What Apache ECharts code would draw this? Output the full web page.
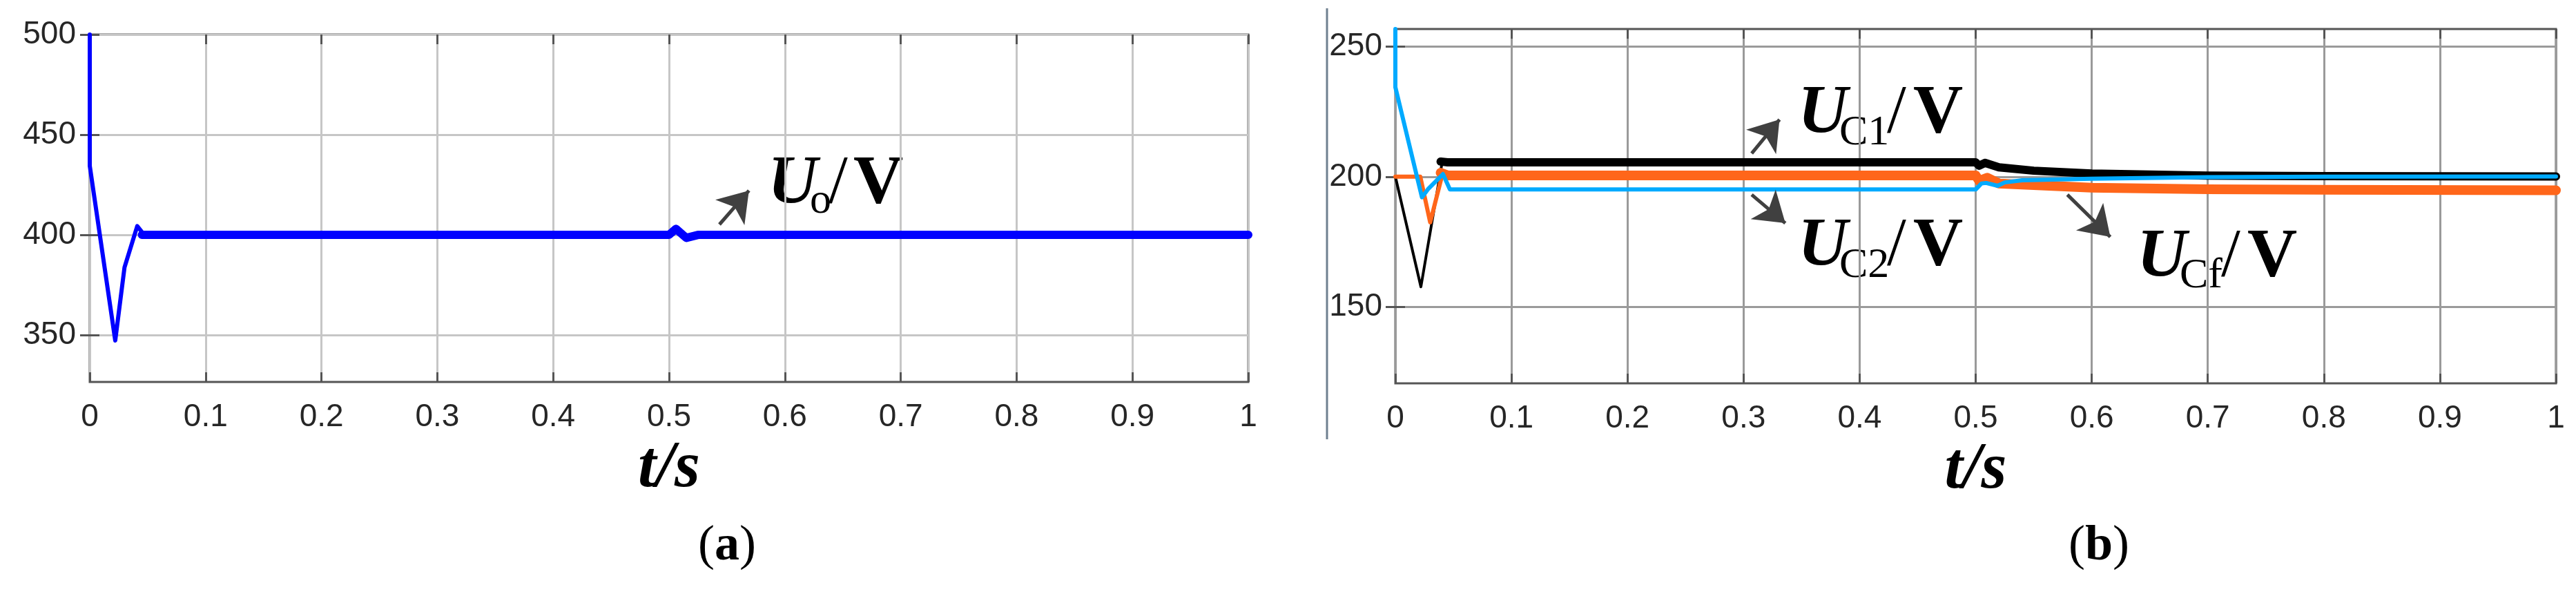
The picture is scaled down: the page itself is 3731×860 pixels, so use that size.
<!DOCTYPE html>
<html>
<head>
<meta charset="utf-8">
<script src="https://cdn.jsdelivr.net/npm/echarts@6/dist/echarts.min.js"></script>
<style>
  html, body { margin: 0; padding: 0; background: #fff; }
  #chart { width: 3731px; height: 860px; }
</style>
</head>
<body>
<div id="chart"></div>
<script>
// (a) output voltage Uo: start-up transient, then the settled trace
const uoRiseT = [0, 0, 0.022, 0.030, 0.041, 0.047];
const uoRiseV = [500, 434.5, 347.3, 383.8, 404.4, 400];
const uoHoldT = [0.045, 0.5, 0.506, 0.515, 0.525, 1];
const uoHoldV = [400, 400, 403, 398.5, 400, 400];

// (b) capacitor voltages
const uc1RiseT = [0, 0.022, 0.0406];
const uc1RiseV = [200, 157.8, 206.3];
const uc1HoldT = [0.039, 0.045, 0.5, 0.503, 0.508, 0.52, 0.55, 0.6, 0.7, 0.8, 1];
const uc1HoldV = [205.8, 205.5, 205.5, 204.2, 205.3, 203.6, 202.3, 201.2, 200.4, 200.2, 200.1];

const ucfRiseT = [0, 0.0215, 0.030, 0.041];
const ucfRiseV = [200, 200, 182.5, 201.8];
const ucfHoldT = [0.039, 0.045, 0.5, 0.503, 0.51, 0.52, 0.6, 0.7, 0.8, 1];
const ucfHoldV = [201.5, 200.5, 200.5, 198.4, 199.6, 197.4, 195.8, 195.2, 195, 194.8];

const uc2T = [0, 0, 0.0229, 0.0281, 0.041, 0.047, 0.5, 0.505, 0.509, 0.519, 0.525, 0.54, 0.6, 0.7, 0.8, 1];
const uc2V = [256.6, 234.3, 192.1, 195.2, 201, 195.1, 195.1, 197.4, 197.6, 196.5, 197.8, 198.6, 199.2, 199.8, 200, 200.1];

// tick labels
const uoTicks = [350, 400, 450, 500];
const ucTicks = [150, 200, 250];

// arrows of the annotations, [t, value] pairs
const uoArrow = [[0.5435, 405.2], [0.569, 422.1]];
const uc1Arrow = [[0.307, 208.9], [0.331, 221.9]];
const uc2Arrow = [[0.307, 193.1], [0.336, 182.2]];
const ucfArrow = [[0.579, 193.1], [0.616, 176.9]];

const pairs = (t, v) => t.map((x, i) => [x, v[i]]);

const SANS = '"Liberation Sans", Arial, sans-serif';
const SERIF = '"Liberation Serif", "Times New Roman", serif';
const TICK_FONT = 46;

function bottomAxis (gridIndex, gridColor, gridWidth) {
  return {
    type: 'value', gridIndex: gridIndex, position: 'bottom',
    min: 0, max: 1, interval: 0.1,
    axisLine: { show: false },
    axisTick: { inside: true, length: 14, lineStyle: { color: '#555', width: 3 } },
    axisLabel: {
      margin: 28, fontSize: TICK_FONT, color: '#262626', fontFamily: SANS,
      formatter: v => String(+v.toFixed(1))
    },
    splitLine: { show: true, lineStyle: { color: gridColor, width: gridWidth } },
    name: 't/s', nameLocation: 'middle', nameGap: 69,
    nameTextStyle: { fontFamily: SERIF, fontStyle: 'italic', fontWeight: 'bold', fontSize: 95, color: '#000' }
  };
}

function topAxis (gridIndex) {
  return {
    type: 'value', gridIndex: gridIndex, position: 'top',
    min: 0, max: 1, interval: 0.1,
    axisLine: { show: false },
    axisTick: { inside: true, length: 14, lineStyle: { color: '#555', width: 3 } },
    axisLabel: { show: false },
    splitLine: { show: false }
  };
}

function leftAxis (gridIndex, min, max, ticks, gridColor, gridWidth, margin) {
  return {
    type: 'value', gridIndex: gridIndex, position: 'left',
    min: min, max: max,
    axisLine: { show: false },
    axisTick: { inside: true, length: 14, customValues: ticks, lineStyle: { color: '#555', width: 3 } },
    axisLabel: { customValues: ticks, margin: margin, fontSize: TICK_FONT, color: '#262626', fontFamily: SANS },
    splitLine: { show: true, lineStyle: { color: gridColor, width: gridWidth } }
  };
}

function rightAxis (gridIndex, min, max, ticks) {
  return {
    type: 'value', gridIndex: gridIndex, position: 'right',
    min: min, max: max,
    axisLine: { show: false },
    axisTick: { inside: true, length: 14, customValues: ticks, lineStyle: { color: '#555', width: 3 } },
    axisLabel: { show: false },
    splitLine: { show: false }
  };
}

function arrowLine (arrow) {
  return [{ coord: arrow[0] }, { coord: arrow[1] }];
}

function arrows (list) {
  return {
    silent: true, animation: false,
    symbol: ['none', 'arrow'], symbolSize: 42,
    lineStyle: { color: '#404040', width: 5, type: 'solid' },
    label: { show: false },
    data: list.map(arrowLine)
  };
}

function line (name, xi, data, color, width, extra) {
  return Object.assign({
    name: name, type: 'line', xAxisIndex: xi, yAxisIndex: xi,
    data: data, showSymbol: false, symbol: 'none', animation: false,
    lineStyle: { color: color, width: width, cap: 'round', join: 'round' }
  }, extra || {});
}

// U with subscript and "/V", placed by hand like the original figure
function voltLabel (x, base, sub, subDx, subDrop, slashDx, vDx) {
  const big = 100, small = 62;
  return [
    { type: 'text', x: x, y: base - 0.3 * big, style: { text: 'U', font: 'italic bold ' + big + 'px ' + SERIF, fill: '#000', verticalAlign: 'middle' } },
    { type: 'text', x: x + subDx, y: base + subDrop - 0.3 * small, style: { text: sub, font: small + 'px ' + SERIF, fill: '#000', verticalAlign: 'middle' } },
    { type: 'text', x: x + slashDx, y: base - 0.3 * big, style: { text: '/', font: big + 'px ' + SERIF, fill: '#000', verticalAlign: 'middle' } },
    { type: 'text', x: x + vDx, y: base - 0.3 * big, style: { text: 'V', font: 'bold ' + big + 'px ' + SERIF, fill: '#000', verticalAlign: 'middle' } }
  ];
}

function panelTag (x, base, letter) {
  return {
    type: 'text', x: x, y: base - 0.3 * 72,
    style: {
      text: '{p|(}{b|' + letter + '}{p|)}', align: 'center', verticalAlign: 'middle', fill: '#000',
      rich: {
        p: { fontFamily: SERIF, fontSize: 72, fill: '#000' },
        b: { fontFamily: SERIF, fontSize: 72, fontWeight: 'bold', fill: '#000' }
      }
    }
  };
}

const chart = echarts.init(document.getElementById('chart'), null, { renderer: 'canvas' });

const option = {
  backgroundColor: '#fff',
  animation: false,
  grid: [
    { left: 130, top: 50, width: 1678, height: 503, show: true, borderColor: '#555', borderWidth: 3, backgroundColor: 'transparent' },
    { left: 2021, top: 42, width: 1681, height: 513, show: true, borderColor: '#555', borderWidth: 3, backgroundColor: 'transparent' }
  ],
  xAxis: [
    bottomAxis(0, '#c6c6c6', 3),
    topAxis(0),
    bottomAxis(1, '#9a9a9a', 3),
    topAxis(1)
  ],
  yAxis: [
    leftAxis(0, 326.6, 500, uoTicks, '#c6c6c6', 3, 20),
    rightAxis(0, 326.6, 500, uoTicks),
    leftAxis(1, 120.8, 256.6, ucTicks, '#9a9a9a', 3, 19),
    rightAxis(1, 120.8, 256.6, ucTicks)
  ],
  series: [
    line('Uo start', 0, pairs(uoRiseT, uoRiseV), '#0000ff', 6),
    line('Uo', 0, pairs(uoHoldT, uoHoldV), '#0000ff', 12, { markLine: arrows([uoArrow]) }),
    line('UC1 start', 2, pairs(uc1RiseT, uc1RiseV), '#000000', 4),
    line('UC1', 2, pairs(uc1HoldT, uc1HoldV), '#000000', 12, { markLine: arrows([uc1Arrow, uc2Arrow, ucfArrow]) }),
    line('UCf start', 2, pairs(ucfRiseT, ucfRiseV), '#ff661a', 6),
    line('UCf', 2, pairs(ucfHoldT, ucfHoldV), '#ff661a', 14),
    line('UC2', 2, pairs(uc2T, uc2V), '#00aaff', 6)
  ],
  graphic: [
    // divider between the two panels
    { type: 'line', shape: { x1: 1922, y1: 12, x2: 1922, y2: 636 }, style: { stroke: '#6f8090', lineWidth: 3 } }
  ]
    .concat(voltLabel(1112, 297, 'o', 61, 13, 88, 124))
    .concat(voltLabel(2604, 195, 'C1', 60, 16, 129, 167))
    .concat(voltLabel(2604, 387, 'C2', 60, 16, 129, 167))
    .concat(voltLabel(3095, 403, 'Cf', 62, 15, 122, 160))
    .concat([panelTag(1053, 813, 'a'), panelTag(3040, 813, 'b')])
};

chart.setOption(option);
window.addEventListener('resize', () => chart.resize());
</script>
</body>
</html>
